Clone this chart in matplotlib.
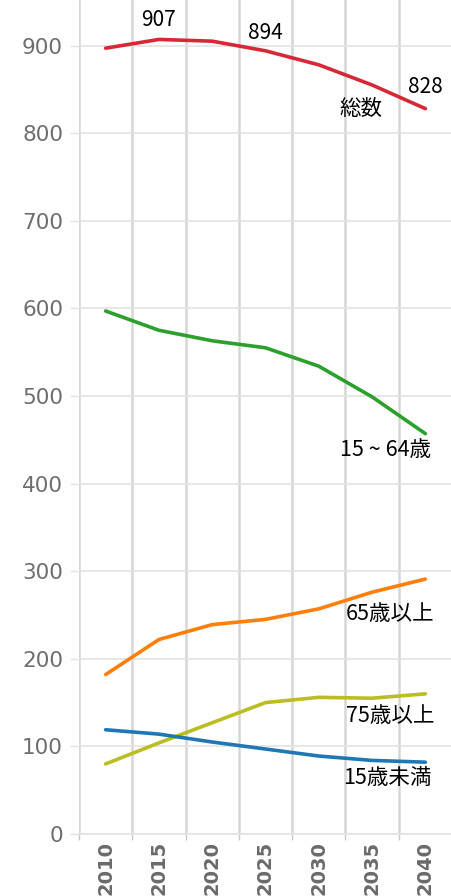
import matplotlib.pyplot as plt
import numpy as np

# data
years = ['2010', '2015', '2020', '2025', '2030', '2035', '2040']
total = [897, 907, 905, 894, 878, 855, 828]
age15_64 = [597, 575, 563, 555, 534, 499, 457]
age65 = [182, 222, 239, 245, 257, 276, 291]
age75 = [80, 104, 127, 150, 156, 155, 160]
under15 = [119, 114, 105, 97, 89, 84, 82]

series = [
    (total, '#d62836', '総数'),
    (age15_64, '#2ca02c', '15 ~ 64歳'),
    (age65, '#ff7f0e', '65歳以上'),
    (age75, '#bcbd22', '75歳以上'),
    (under15, '#1f77b4', '15歳未満'),
]
# label offsets in pixels from the last point
label_offsets = [(-64, 0, 'center'), (6, -16, 'right'), (9, -35, 'right'),
                 (9, -22, 'right'), (6, -16, 'right')]

cjk = ['Noto Sans CJK JP', 'DejaVu Sans']

fig = plt.figure(figsize=(4.52, 8.96), dpi=100)
ax = fig.add_axes([79 / 452, 62 / 896, 1 - 79 / 452, 834 / 896])

x = np.arange(len(years))
for vals, color, name in series:
    ax.plot(x, vals, color=color, lw=2.6, solid_capstyle='round', zorder=3)

# value labels on the total line
for i, dy in [(1, 19), (3, 18), (6, 22)]:
    ax.annotate(str(total[i]), (x[i], total[i]), xytext=(0, dy),
                textcoords='offset pixels', ha='center', va='center',
                fontsize=15, family=cjk, color='black')

# series names near the end of each line
for (vals, color, name), (dx, dy, ha) in zip(series, label_offsets):
    ax.annotate(name, (x[-1], vals[-1]), xytext=(dx, dy),
                textcoords='offset pixels', ha=ha, va='center',
                fontsize=15.5, family=cjk, color='black')

ax.set_xlim(-0.5, -0.5 + (452 - 79) / 54)
ax.set_ylim(0, 952)

ax.set_yticks(np.arange(0, 901, 100))
ax.tick_params(axis='y', length=6.5, width=1, color='#e3e3e3', pad=5,
               labelsize=15.5, labelcolor='#6e6e6e')

ax.set_xticks(x)
ax.set_xticklabels(years, rotation=90, fontsize=14, fontweight='bold',
                   color='#6a6a6a')
ax.tick_params(axis='x', which='major', length=0, pad=5)
ax.set_xticks(np.arange(-0.5, 6.6, 1), minor=True)
ax.tick_params(axis='x', which='minor', length=4.5, width=1, color='#c8c8c8')

ax.grid(axis='y', color='#e3e3e3', lw=1.2, zorder=0)
ax.grid(axis='x', which='minor', color='#d6d6d6', lw=1.8, zorder=0)
ax.grid(axis='x', which='major', visible=False)

for s in ['left', 'right', 'top']:
    ax.spines[s].set_visible(False)
ax.spines['bottom'].set_color('#e3e3e3')
ax.spines['bottom'].set_linewidth(1.2)

fig.savefig('out.png', dpi=100)
